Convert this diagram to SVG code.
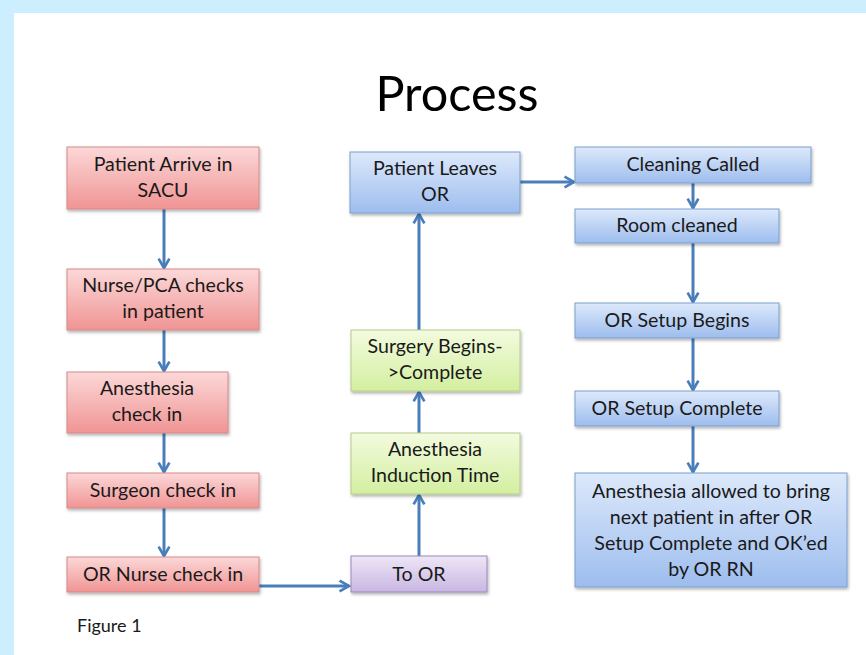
<svg xmlns="http://www.w3.org/2000/svg" width="866" height="655" viewBox="0 0 866 655">
<defs>
<linearGradient id="gRed" x1="0" y1="0" x2="0" y2="1"><stop offset="0" stop-color="#fcd8d8"/><stop offset="1" stop-color="#f09494"/></linearGradient>
<linearGradient id="gBlue" x1="0" y1="0" x2="0" y2="1"><stop offset="0" stop-color="#dde9fb"/><stop offset="1" stop-color="#9dbdee"/></linearGradient>
<linearGradient id="gGreen" x1="0" y1="0" x2="0" y2="1"><stop offset="0" stop-color="#f3fbdf"/><stop offset="1" stop-color="#d3efa0"/></linearGradient>
<linearGradient id="gPurple" x1="0" y1="0" x2="0" y2="1"><stop offset="0" stop-color="#eee6f7"/><stop offset="1" stop-color="#c8b6e2"/></linearGradient>
<filter id="sh" x="-10%" y="-10%" width="125%" height="130%"><feDropShadow dx="1" dy="2" stdDeviation="1.5" flood-color="#000" flood-opacity="0.3"/></filter>
<marker id="ah" viewBox="0 0 10 10" refX="8" refY="5" markerWidth="4.5" markerHeight="4.5" orient="auto" markerUnits="strokeWidth">
<polyline points="1,1 8,5 1,9" fill="none" stroke="#4a7ebb" stroke-width="2"/>
</marker>
</defs>
<style>
.red{fill:url(#gRed);stroke:#d48a88;stroke-width:1;filter:url(#sh)}
.blue{fill:url(#gBlue);stroke:#7a9fd0;stroke-width:1;filter:url(#sh)}
.green{fill:url(#gGreen);stroke:#b5cc88;stroke-width:1;filter:url(#sh)}
.purple{fill:url(#gPurple);stroke:#9d88bd;stroke-width:1;filter:url(#sh)}
text{font-family:Lato,"Open Sans","Liberation Sans",sans-serif;fill:#1a1a1a}
.t{font-size:19.6px;text-anchor:middle}
.c{fill:none;stroke:#4a7ebb;stroke-width:3;marker-end:url(#ah)}
</style>
<rect x="0" y="0" width="866" height="655" fill="#cdeeff"/>
<rect x="14" y="13" width="852" height="642" fill="#ffffff"/>
<text x="457" y="111" style="font-size:48.5px;text-anchor:middle;fill:#000">Process</text>

<g id="connectors">
<line class="c" x1="164" y1="209" x2="164" y2="268"/>
<line class="c" x1="164" y1="330" x2="164" y2="371"/>
<line class="c" x1="164" y1="433" x2="164" y2="472"/>
<line class="c" x1="164" y1="508" x2="164" y2="556"/>
<line class="c" x1="259" y1="586" x2="349" y2="586"/>
<line class="c" x1="419" y1="556" x2="419" y2="495"/>
<line class="c" x1="419" y1="433" x2="419" y2="392"/>
<line class="c" x1="419" y1="330" x2="419" y2="214"/>
<line class="c" x1="520" y1="182" x2="574" y2="182"/>
<line class="c" x1="693" y1="183" x2="693" y2="208"/>
<line class="c" x1="693" y1="243" x2="693" y2="302"/>
<line class="c" x1="693" y1="338" x2="693" y2="390"/>
<line class="c" x1="693" y1="426" x2="693" y2="472"/>
</g>

<g id="n1"><rect class="red" x="67" y="147" width="192" height="62"/><text class="t" x="163" y="171">Patient Arrive in</text><text class="t" x="163" y="197">SACU</text></g>
<g id="n2"><rect class="red" x="67" y="269" width="192" height="61"/><text class="t" x="163" y="292">Nurse/PCA checks</text><text class="t" x="163" y="318">in patient</text></g>
<g id="n3"><rect class="red" x="67" y="372" width="161" height="61"/><text class="t" x="147" y="395">Anesthesia</text><text class="t" x="147" y="421">check in</text></g>
<g id="n4"><rect class="red" x="67" y="473" width="192" height="35"/><text class="t" x="163" y="497">Surgeon check in</text></g>
<g id="n5"><rect class="red" x="67" y="557" width="192" height="35"/><text class="t" x="163" y="581">OR Nurse check in</text></g>

<g id="n6"><rect class="purple" x="351" y="556" width="136" height="36"/><text class="t" x="419" y="581">To OR</text></g>
<g id="n7"><rect class="green" x="351" y="433" width="169" height="61"/><text class="t" x="435" y="456">Anesthesia</text><text class="t" x="435" y="482">Induction Time</text></g>
<g id="n8"><rect class="green" x="351" y="330" width="169" height="61"/><text class="t" x="435" y="353">Surgery Begins-</text><text class="t" x="435" y="379">&gt;Complete</text></g>
<g id="n9"><rect class="blue" x="350" y="152" width="170" height="61"/><text class="t" x="435" y="175">Patient Leaves</text><text class="t" x="435" y="201">OR</text></g>

<g id="n10"><rect class="blue" x="575" y="147" width="236" height="36"/><text class="t" x="693" y="171">Cleaning Called</text></g>
<g id="n11"><rect class="blue" x="575" y="209" width="204" height="34"/><text class="t" x="677" y="232">Room cleaned</text></g>
<g id="n12"><rect class="blue" x="575" y="303" width="204" height="35"/><text class="t" x="677" y="327">OR Setup Begins</text></g>
<g id="n13"><rect class="blue" x="575" y="391" width="204" height="35"/><text class="t" x="677" y="415">OR Setup Complete</text></g>
<g id="n14"><rect class="blue" x="575" y="473" width="272" height="114"/><text class="t" x="711" y="498">Anesthesia allowed to bring</text><text class="t" x="711" y="524">next patient in after OR</text><text class="t" x="711" y="550">Setup Complete and OK’ed</text><text class="t" x="711" y="576">by OR RN</text></g>

<text x="77" y="632" style="font-size:18px">Figure 1</text>
</svg>
